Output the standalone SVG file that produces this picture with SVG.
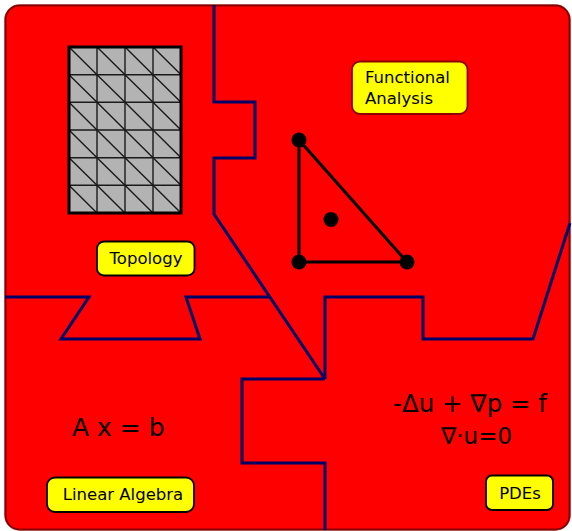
<svg xmlns="http://www.w3.org/2000/svg" width="572" height="531" viewBox="0 0 572 531">
<defs>
<style>
.bound{fill:none;stroke:#000066;stroke-width:3;stroke-linejoin:miter}
.lbl{stroke-width:1.8}
.lt{font-family:"DejaVu Sans","Liberation Sans",sans-serif;font-size:16.5px;fill:#000}
.eq{font-family:"DejaVu Sans","Liberation Sans",sans-serif;font-size:23px;fill:#000}
.cell{stroke:#1a1a1a;stroke-width:1.4;fill:none}
.dot{fill:#000}
</style>
</defs>
<rect x="4.5" y="4.5" width="566" height="526" rx="15" fill="none" stroke="#c8a0a0" stroke-width="1"/>
<rect x="5.5" y="5.5" width="564" height="524" rx="14" fill="#ff0000" stroke="#8b0000" stroke-width="2"/>
<g id="boundaries">
<path class="bound" d="M214,5 L214,102 L255,102 L255,158 L214,158 L214,214 L325,379"/>
<path class="bound" d="M5,297 L89,297 L61,339 L200,339 L186,297 L269,297"/>
<path class="bound" d="M325,379 L325,297 L423,297 L423,339 L533,339 L570,223"/>
<path class="bound" d="M325,379 L242,379 L242,463 L325,463 L325,530"/>
</g>
<g id="mesh">
<rect x="69" y="47" width="112" height="166" fill="#b3b3b3"/>
<path class="cell" d="M97,47V213M125,47V213M153,47V213M69,74.7H181M69,102.3H181M69,130H181M69,157.7H181M69,185.3H181"/>
<path class="cell" d="M69,47L97,74.7M97,47L125,74.7M125,47L153,74.7M153,47L181,74.7M69,74.7L97,102.3M97,74.7L125,102.3M125,74.7L153,102.3M153,74.7L181,102.3M69,102.3L97,130M97,102.3L125,130M125,102.3L153,130M153,102.3L181,130M69,130L97,157.7M97,130L125,157.7M125,130L153,157.7M153,130L181,157.7M69,157.7L97,185.3M97,157.7L125,185.3M125,157.7L153,185.3M153,157.7L181,185.3M69,185.3L97,213M97,185.3L125,213M125,185.3L153,213M153,185.3L181,213"/>
<rect x="69" y="47" width="112" height="166" fill="none" stroke="#000" stroke-width="3"/>
</g>
<g id="element">
<path d="M299,140 L299,262 L407,262 Z" fill="none" stroke="#000" stroke-width="3"/>
<circle class="dot" cx="299" cy="140" r="7.5"/>
<circle class="dot" cx="299" cy="262" r="7.5"/>
<circle class="dot" cx="407" cy="262" r="7.5"/>
<circle class="dot" cx="331" cy="219.5" r="7.5"/>
</g>
<g id="topology">
<rect class="lbl" x="97" y="241.5" width="97.5" height="34" rx="7" fill="#ffff00" stroke="#000"/>
<text class="lt" x="146" y="263.5" text-anchor="middle">Topology</text>
</g>
<g id="functional-analysis">
<rect class="lbl" x="352" y="61.5" width="115.5" height="52.5" rx="8" fill="#ffff00" stroke="#8b0000"/>
<text class="lt" x="365" y="83">Functional</text>
<text class="lt" x="365" y="104">Analysis</text>
</g>
<g id="linear-algebra">
<rect class="lbl" x="47" y="477.5" width="147" height="34.5" rx="8" fill="#ffff00" stroke="#000"/>
<text class="lt" x="123" y="500" text-anchor="middle">Linear Algebra</text>
</g>
<g id="pdes">
<rect class="lbl" x="486" y="475.5" width="67" height="34.5" rx="6" fill="#ffff00" stroke="#000"/>
<text class="lt" x="520" y="498.5" text-anchor="middle">PDEs</text>
</g>
<text class="eq" x="72" y="436" style="font-size:25px">A x = b</text>
<text class="eq" x="470" y="412" text-anchor="middle" style="font-size:24.5px">-Δu + ∇p = f</text>
<text class="eq" x="476.5" y="444" text-anchor="middle">∇·u=0</text>
</svg>
